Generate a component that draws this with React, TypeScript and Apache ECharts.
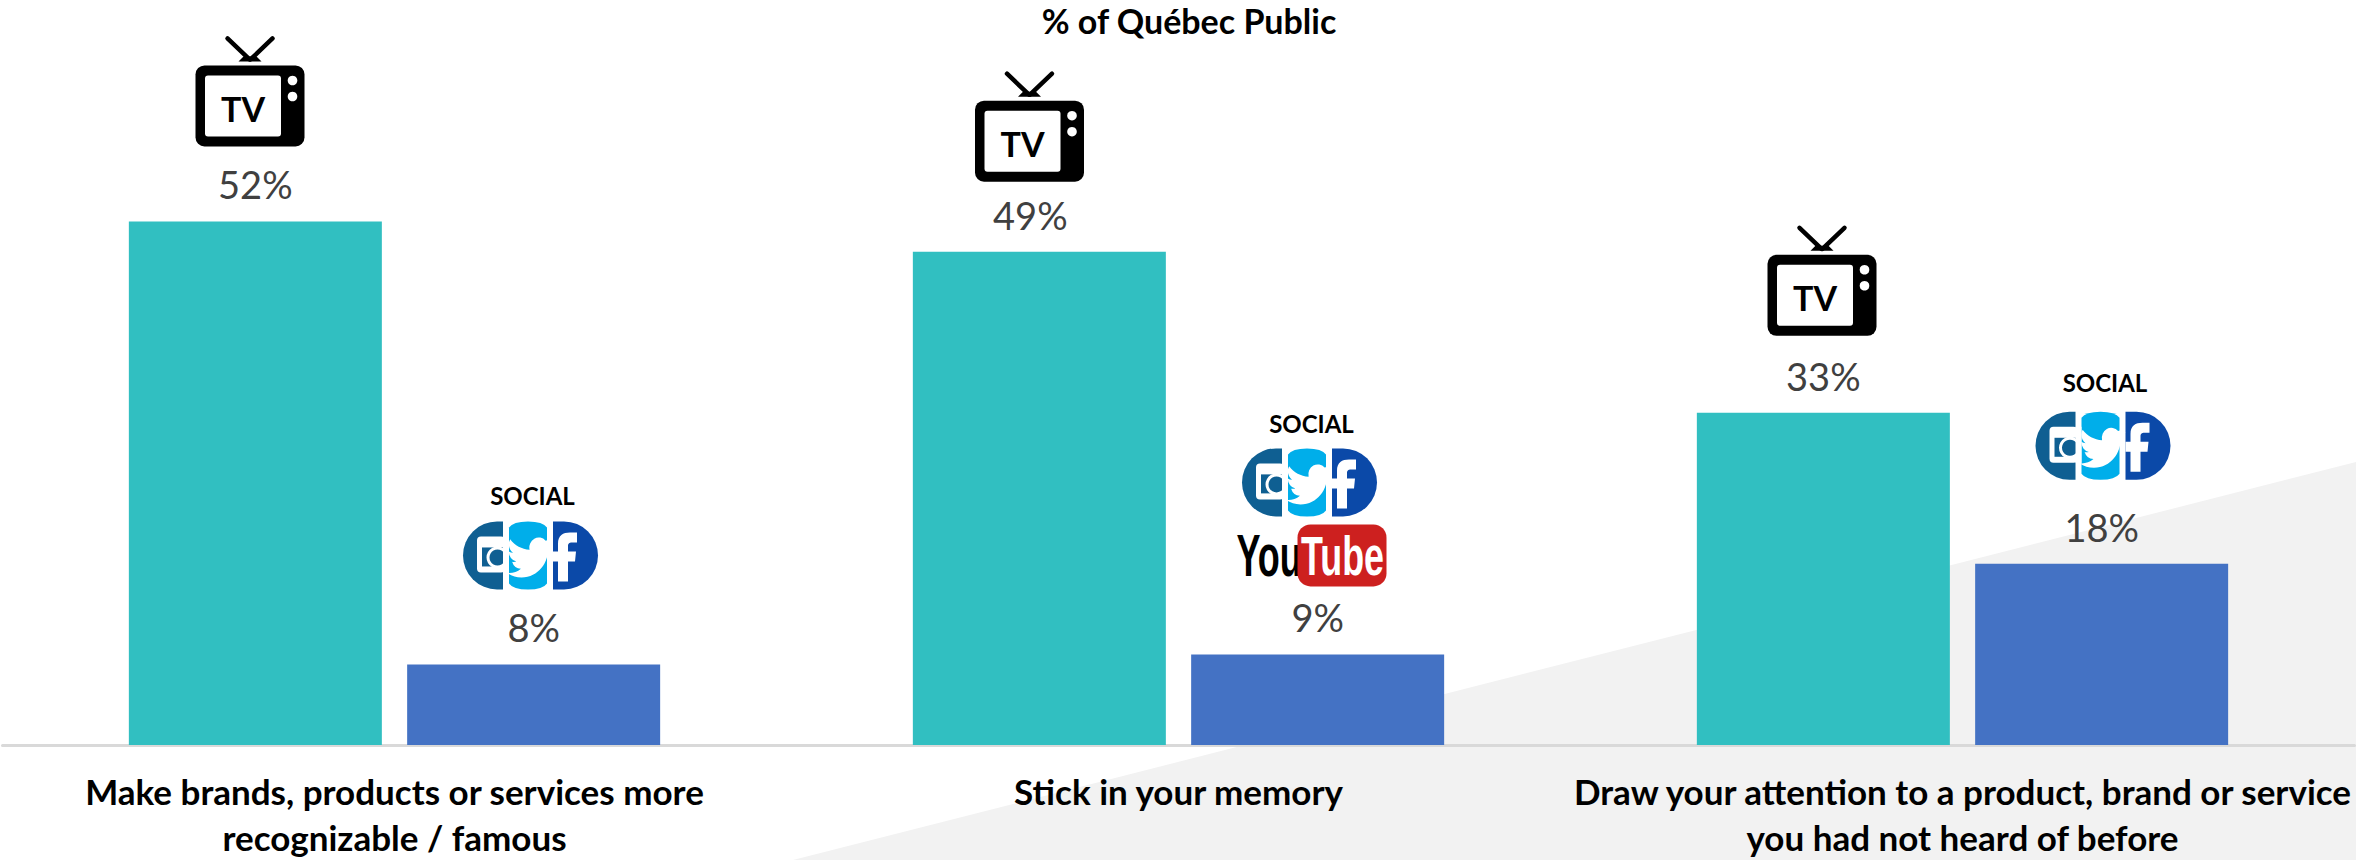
import React, { useEffect, useRef } from "react";
import * as echarts from "echarts";

const categories = [
  "Make brands, products or services more\nrecognizable / famous",
  "Stick in your memory",
  "Draw your attention to a product, brand or service\nyou had not heard of before",
];
const tvValues = [52, 49, 33];
const socialValues = [8, 9, 18];
const title = "% of Québec Public";

const TEAL = "#31bfc1";
const BLUE = "#4472c4";
const BAR_W = 253;
const HALF = 139;
// per-group nudges of the pictograms and labels, in px
const tvNudge = [[-5.5, -75], [-10, -70], [-1.5, -77]];
const tvLabelNudgeX = [0, -9, 0];
const socialNudge = [[-3, -75], [-8, -138], [1.5, -84]];
const socialTextGap = [26, 25, 29];
const hasYouTube = [false, true, false];

const FONT = "Lato, 'Open Sans', sans-serif";

const BIRD =
  "M23.953 4.57a10 10 0 0 1-2.825.775 4.958 4.958 0 0 0 2.163-2.723c-.951.555-2.005.959-3.127 1.184a4.92 4.92 0 0 0-8.384 4.482C7.69 8.095 4.067 6.13 1.64 3.162a4.822 4.822 0 0 0-.666 2.475c0 1.71.87 3.213 2.188 4.096a4.904 4.904 0 0 1-2.228-.616v.06a4.923 4.923 0 0 0 3.946 4.827 4.996 4.996 0 0 1-2.212.085 4.936 4.936 0 0 0 4.604 3.417 9.867 9.867 0 0 1-6.102 2.105c-.39 0-.779-.023-1.17-.067a13.995 13.995 0 0 0 7.557 2.209c9.053 0 13.998-7.496 13.998-13.985 0-.21 0-.42-.015-.63A9.935 9.935 0 0 0 24 4.59z";

function tvIcon(cx: number, bottom: number) {
  const x = cx - 54.5;
  const y = bottom - 81;
  return {
    type: "group",
    x,
    y,
    children: [
      { type: "line", shape: { x1: 32, y1: -27, x2: 54, y2: -6 }, style: { stroke: "#000", lineWidth: 4.5, lineCap: "round" } },
      { type: "line", shape: { x1: 77, y1: -27, x2: 55, y2: -6 }, style: { stroke: "#000", lineWidth: 4.5, lineCap: "round" } },
      { type: "polygon", shape: { points: [[48, -9], [61, -9], [66, -4], [43, -4]] }, style: { fill: "#000" } },
      { type: "rect", shape: { x: 0, y: 0, width: 109, height: 81, r: 9 }, style: { fill: "#000" } },
      { type: "rect", shape: { x: 9.5, y: 10, width: 76, height: 61, r: 3 }, style: { fill: "#fff" } },
      { type: "circle", shape: { cx: 97, cy: 15, r: 4.8 }, style: { fill: "#fff" } },
      { type: "circle", shape: { cx: 97, cy: 31, r: 4.8 }, style: { fill: "#fff" } },
      {
        type: "text",
        x: 47.5,
        y: 43,
        style: { text: "TV", fill: "#000", font: `bold 34px ${FONT}`, textAlign: "center", textVerticalAlign: "middle" },
      },
    ],
  };
}

function socialIcon(cx: number, top: number) {
  const p = (d: string, fill: string, x: number, y: number, w: number, h: number) => ({
    type: "path",
    shape: { pathData: d, x, y, width: w, height: h, layout: "cover" },
    style: { fill },
  });
  return {
    type: "group",
    x: cx - 67.5,
    y: top,
    children: [
      p("M40 0H34A34 34 0 0 0 34 68H40Z", "#0f5f92", 0, 0, 40, 68),
      p("M46 6Q50 0 65 0Q80 0 84 6V62Q80 68 65 68Q50 68 46 62Z", "#00aeea", 46, 0, 38, 68),
      p("M90 0H101A34 34 0 0 1 101 68H90Z", "#0b49a8", 90, 0, 45, 68),
      { type: "rect", shape: { x: 14, y: 15, width: 28, height: 36, r: 4 }, style: { fill: "#fff" } },
      { type: "rect", shape: { x: 19, y: 26, width: 23, height: 19 }, style: { fill: "#0f5f92" } },
      { type: "ring", shape: { cx: 34.5, cy: 36, r: 11, r0: 8 }, style: { fill: "#fff" } },
      { type: "rect", shape: { x: 40, y: 15, width: 6, height: 36 }, style: { fill: "#fff" } },
      p(BIRD, "#fff", 44, 16, 46, 40),
      p("M95 60V40H90V30H95V22C95 14 100 11 107 11H114V21H109C106 21 105 22 105 25V30H113L112 40H105V60Z", "#fff", 90, 11, 24, 49),
    ],
  };
}

function youTube(cx: number, top: number) {
  return {
    type: "group",
    x: cx - 75,
    y: top,
    children: [
      {
        type: "text",
        x: 0,
        y: 30,
        scaleX: 0.6,
        style: { text: "You", fill: "#000", font: "bold 60px 'Liberation Sans Narrow', 'Liberation Sans', sans-serif", textAlign: "left", textVerticalAlign: "middle" },
      },
      { type: "rect", shape: { x: 61, y: 0, width: 89, height: 62, r: 13 }, style: { fill: "#cd201f" } },
      {
        type: "text",
        x: 106,
        y: 31,
        scaleX: 0.64,
        style: { text: "Tube", fill: "#fff", font: "bold 56px 'Liberation Sans Narrow', 'Liberation Sans', sans-serif", textAlign: "center", textVerticalAlign: "middle" },
      },
    ],
  };
}

export default function App() {
  const ref = useRef<HTMLDivElement>(null);
  useEffect(() => {
    const chart = echarts.init(ref.current!, undefined, { renderer: "svg" });
    const valueLabel = {
      show: true,
      position: "top",
      distance: 18,
      formatter: "{c}%",
      color: "#404040",
      fontFamily: FONT,
      fontSize: 38,
    };
    chart.setOption({
      animation: false,
      backgroundColor: "#fff",
      title: {
        text: title,
        left: 1189,
        top: 0,
        padding: 0,
        textAlign: "center",
        textStyle: { fontFamily: FONT, fontWeight: "bold", fontSize: 34, lineHeight: 40, color: "#000" },
      },
      graphic: [
        {
          type: "polygon",
          z: 0,
          silent: true,
          shape: { points: [[793, 860], [2356, 462], [2356, 860]] },
          style: { fill: "#f2f2f2" },
        },
      ],
      grid: { left: 2.5, right: 1.5, top: 0, bottom: 114 },
      xAxis: {
        type: "category",
        data: categories,
        axisTick: { show: false },
        axisLine: { lineStyle: { color: "#d9d9d9", width: 3 } },
        axisLabel: {
          interval: 0,
          margin: 23,
          color: "#000",
          fontFamily: FONT,
          fontWeight: "bold",
          fontSize: 35,
          lineHeight: 46,
        },
      },
      yAxis: { type: "value", min: 0, max: 74, show: false },
      series: [
        {
          type: "bar",
          name: "TV",
          data: tvValues.map((value, i) => ({ value, label: { offset: [tvLabelNudgeX[i], 0] } })),
          barWidth: BAR_W,
          barGap: "10%",
          itemStyle: { color: TEAL },
          label: valueLabel,
        },
        {
          type: "bar",
          name: "Social",
          data: socialValues,
          barWidth: BAR_W,
          barGap: "10%",
          itemStyle: { color: BLUE },
          label: valueLabel,
        },
        {
          type: "custom",
          name: "TV icons",
          silent: true,
          clip: false,
          z: 5,
          encode: { x: 0, y: 1 },
          data: tvValues.map((v, i) => [i, v]),
          renderItem: (params: any, api: any) => {
            const i = api.value(0);
            const pt = api.coord([i, api.value(1)]);
            return tvIcon(pt[0] - HALF + tvNudge[i][0], pt[1] + tvNudge[i][1]);
          },
        },
        {
          type: "custom",
          name: "Social icons",
          silent: true,
          clip: false,
          z: 5,
          encode: { x: 0, y: 1 },
          data: socialValues.map((v, i) => [i, v]),
          renderItem: (params: any, api: any) => {
            const i = api.value(0);
            const pt = api.coord([i, api.value(1)]);
            const cx = pt[0] + HALF + socialNudge[i][0];
            const top = pt[1] + socialNudge[i][1] - 68;
            const children: any[] = [
              {
                type: "text",
                x: cx + 2,
                y: top - socialTextGap[i],
                style: { text: "SOCIAL", fill: "#000", font: `bold 24px ${FONT}`, textAlign: "center", textVerticalAlign: "middle" },
              },
              socialIcon(cx, top),
            ];
            if (hasYouTube[i]) children.push(youTube(cx + 2, top + 76));
            return { type: "group", children };
          },
        },
      ],
    });
    return () => chart.dispose();
  }, []);
  return <div ref={ref} style={{ position: "absolute", left: 0, top: 0, width: 2356, height: 860 }} />;
}
